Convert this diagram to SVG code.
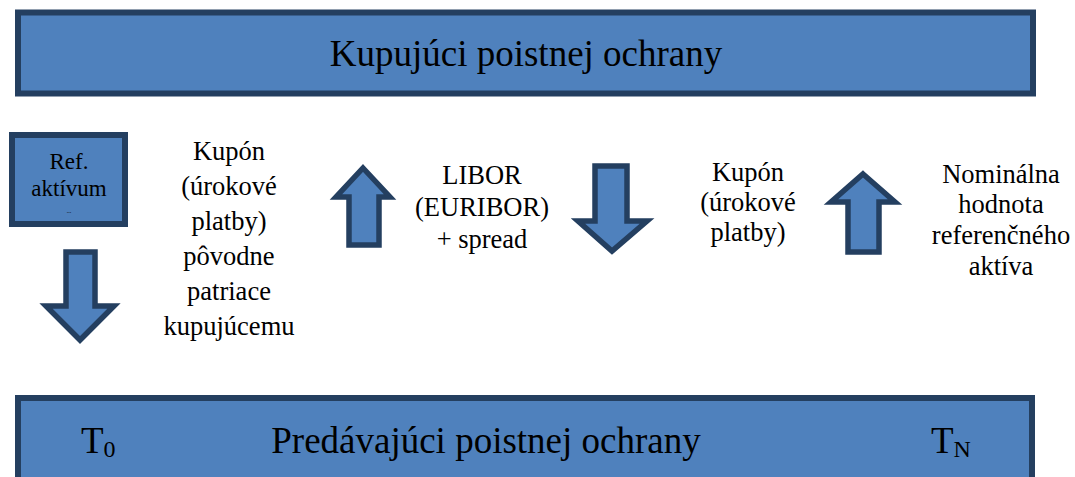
<svg xmlns="http://www.w3.org/2000/svg" width="1075" height="477" viewBox="0 0 1075 477">
  <style>
    .box { fill: #4F81BD; stroke: #243F60; stroke-width: 6; }
    .arrow { fill: #4F81BD; stroke: #243F60; stroke-width: 5.5; stroke-linejoin: miter; }
    .t { fill: #000; text-anchor: middle; }
    .big { font-size: 37px; }
    .mid { font-size: 26.5px; }
    .small { font-size: 23px; }
  </style>

  <g font-family="'Liberation Serif', 'Times New Roman', Times, 'DejaVu Serif', serif">
  <!-- top banner: protection buyer -->
  <g id="buyer">
    <rect class="box" x="18" y="12.5" width="1015" height="81"/>
    <text class="t big" x="526" y="66">Kupujúci poistnej ochrany</text>
  </g>

  <!-- bottom banner: protection seller with time markers -->
  <g id="seller">
    <rect class="box" x="18" y="398" width="1014" height="90"/>
    <text class="t big" x="486" y="453">Predávajúci poistnej ochrany</text>
    <text class="t big" x="81" y="453" style="text-anchor:start">T<tspan font-size="24" dy="4">0</tspan></text>
    <text class="t big" x="931" y="453" style="text-anchor:start">T<tspan font-size="24" dy="4">N</tspan></text>
  </g>

  <!-- reference asset box -->
  <g id="ref-asset">
    <rect class="box" x="12" y="135" width="113" height="89"/>
    <text class="t small" x="69" y="169">Ref.</text>
    <text class="t small" x="69" y="196">aktívum</text>
    <text class="t" x="69" y="213" font-size="6" fill="#3a5f8f">...</text>
  </g>

  <!-- flow arrows -->
  <g id="connectors">
    <path id="arrow-down-1" class="arrow" d="M66,252 H95 V306 H114 L80,340 L46,306 H66 Z"/>
    <path id="arrow-up-1" class="arrow" d="M363,168 L390,197 H379 V245 H349 V197 H336 Z"/>
    <path id="arrow-down-2" class="arrow" d="M595,166 H627 V221 H647 L612,251 L578,221 H595 Z"/>
    <path id="arrow-up-2" class="arrow" d="M863,174 L895,202 H879 V252 H848 V202 H831 Z"/>
  </g>

  <!-- coupon originally belonging to buyer -->
  <g id="label-coupon-original">
    <text class="t mid" x="229" y="160">Kupón</text>
    <text class="t mid" x="229" y="195">(úrokové</text>
    <text class="t mid" x="229" y="230">platby)</text>
    <text class="t mid" x="229" y="265">pôvodne</text>
    <text class="t mid" x="229" y="300">patriace</text>
    <text class="t mid" x="229" y="335">kupujúcemu</text>
  </g>

  <!-- floating leg -->
  <g id="label-libor">
    <text class="t mid" x="482" y="184">LIBOR</text>
    <text class="t mid" x="482" y="216">(EURIBOR)</text>
    <text class="t mid" x="482" y="248">+ spread</text>
  </g>

  <!-- coupon leg -->
  <g id="label-coupon">
    <text class="t mid" x="748" y="181">Kupón</text>
    <text class="t mid" x="748" y="211">(úrokové</text>
    <text class="t mid" x="748" y="241">platby)</text>
  </g>

  <!-- notional leg -->
  <g id="label-notional">
    <text class="t mid" x="1001" y="183">Nominálna</text>
    <text class="t mid" x="1001" y="213">hodnota</text>
    <text class="t mid" x="1001" y="244">referenčného</text>
    <text class="t mid" x="1001" y="275">aktíva</text>
  </g>
  </g>
</svg>
